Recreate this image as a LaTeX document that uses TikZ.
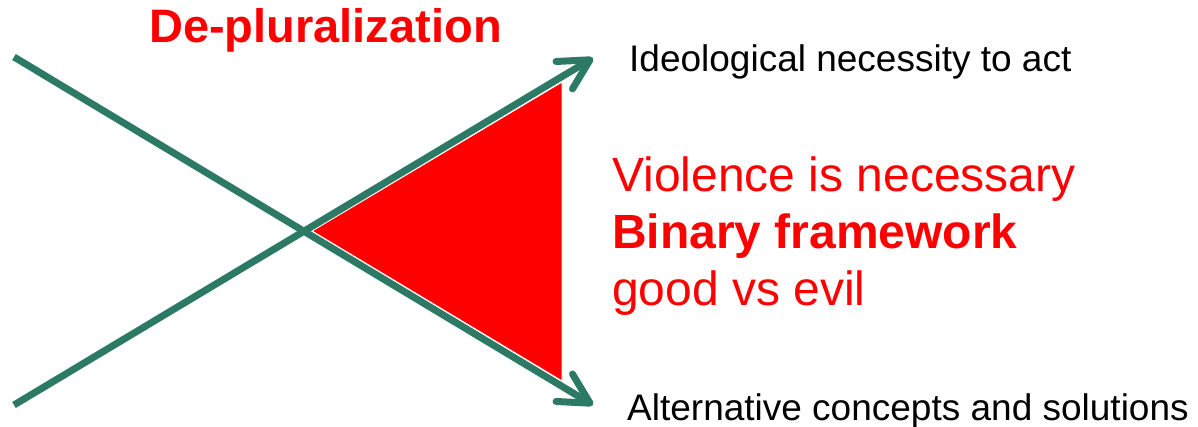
\documentclass[tikz,border=0pt]{standalone}
\usepackage{fontspec}
\setmainfont{Liberation Sans}
\usepackage{tikz}
\usetikzlibrary{arrows.meta, positioning}
\definecolor{myred}{RGB}{255,0,0}
\definecolor{mygreen}{RGB}{44,122,101}
\tikzset{
  crossline/.style={-{Straight Barb[length=30pt, width=32pt, round]}, line width=7pt, color=mygreen},
  outlabel/.style={anchor=base west, inner sep=0pt, font=\fontsize{37}{44}\selectfont, color=black},
  redtext/.style={inner sep=0pt, color=myred}
}

\begin{document}
\begin{tikzpicture}[x=1pt, y=-1pt]
  \useasboundingbox (0,0) rectangle (1198,427);

  % Line ends and wedge corners
  \coordinate (upstart) at (14,57);
  \coordinate (downstart) at (14,405);
  \coordinate (uptip) at (593,405);
  \coordinate (downtip) at (593,58);
  \coordinate (wedgeleft) at (312,231);
  \coordinate (wedgetop) at (562,82);
  \coordinate (wedgebot) at (562,381);

  % Red wedge
  \fill[myred, draw=white, line width=1pt] (wedgeleft) -- (wedgetop) -- (wedgebot) -- cycle;

  % Crossing arrows
  \draw[crossline] (upstart) -- (uptip);
  \draw[crossline] (downstart) -- (downtip);

  % Title
  \node[redtext, anchor=base west, font=\fontsize{47}{56}\selectfont\bfseries] (title) at (149,43) {De-pluralization};

  % Outcomes
  \node[outlabel] (necessity) at (629,72) {Ideological necessity to act};
  \node[outlabel] (alternatives) at (627,420) {Alternative concepts and solutions};

  % Claims
  \node[redtext, anchor=north west, align=left, font=\fontsize{48}{57}\selectfont] (claims) at (612,157) {
    Violence is necessary\\
    \textbf{Binary framework}\\
    good vs evil
  };
\end{tikzpicture}
\end{document}
